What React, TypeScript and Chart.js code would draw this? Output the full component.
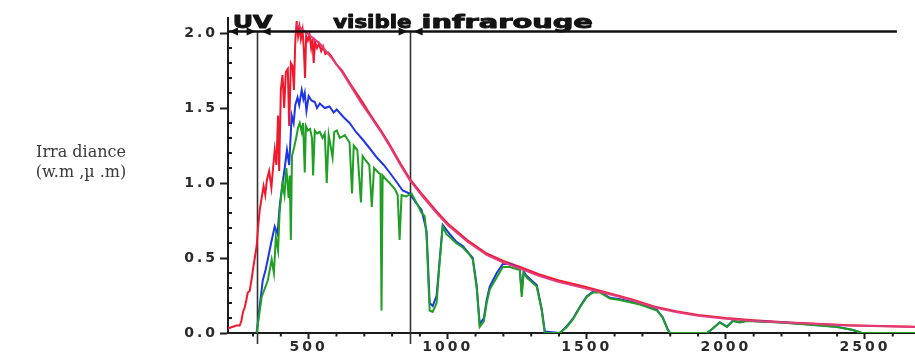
import { useEffect, useRef } from "react";
import { Chart, registerables } from "chart.js";

Chart.register(...registerables);

// Axis ticks
const wavelengthTicks = [500, 1000, 1500, 2000, 2500];
const irradianceTicks = [0, 0.5, 1.0, 1.5, 2.0];
const wavelengthMin = 210;
const wavelengthMax = 2680;
const irradianceMax = 2.1;

// Spectral band boundaries (nm) and their labels with the wavelength span each label covers
const uvLimit = 313;
const irLimit = 863;
const bandLabels = ["UV", "visible", "infrarouge"];
const bandLabelSpans: [number, number][] = [
  [227, 370],
  [588, 870],
  [906, 1522],
];
const arrowLineEnd = 2615;
const arrowLevel = 2.01;

const yTitleLines = ["Irra diance", "(w.m ,µ .m)"];

// Solar irradiance outside the atmosphere [wavelength nm, W/m²/µm]
const outsideAtmosphere: [number, number][] = [
  [209, 0.03], [225, 0.04], [240, 0.05], [252, 0.05], [258, 0.08], [264, 0.14], [270, 0.17],
  [276, 0.22], [281, 0.27], [288, 0.28], [295, 0.36], [302, 0.45], [308, 0.52], [313, 0.58],
  [318, 0.7], [324, 0.82], [331, 0.9], [338, 0.98], [344, 0.92], [350, 1.02], [358, 1.08],
  [366, 0.97], [372, 1.1], [378, 1.22], [384, 1.12], [390, 1.45], [394, 1.08], [400, 1.62],
  [406, 1.72], [412, 1.5], [418, 1.74], [425, 1.76], [430, 1.38], [436, 1.8], [442, 1.78],
  [447, 1.62], [452, 1.95], [457, 2.08], [462, 1.98], [467, 2.04], [472, 1.96], [478, 2.02],
  [483, 1.88], [487, 1.7], [491, 1.98], [497, 1.95], [503, 1.99], [509, 1.9], [514, 1.96],
  [518, 1.8], [523, 1.94], [530, 1.9], [537, 1.93], [545, 1.88], [552, 1.91], [560, 1.86],
  [570, 1.87], [580, 1.85], [590, 1.82], [600, 1.79], [620, 1.75], [650, 1.66], [690, 1.55],
  [720, 1.46], [760, 1.35], [790, 1.26], [830, 1.13], [863, 1.03], [910, 0.92], [960, 0.81],
  [1000, 0.73], [1070, 0.62], [1140, 0.53], [1200, 0.48], [1260, 0.44], [1330, 0.39],
  [1400, 0.35], [1490, 0.31], [1600, 0.255], [1660, 0.225], [1745, 0.175], [1820, 0.145],
  [1900, 0.12], [2000, 0.1], [2100, 0.085], [2230, 0.07], [2440, 0.052], [2560, 0.046],
  [2680, 0.041],
];

// Direct irradiance at ground level
const groundDirect: [number, number][] = [
  [313, 0.0], [322, 0.15], [335, 0.35], [345, 0.42], [353, 0.49], [365, 0.6], [378, 0.71],
  [388, 0.66], [396, 0.85], [405, 0.98], [414, 1.1], [422, 1.22], [430, 1.12], [439, 1.45],
  [446, 1.4], [452, 1.52], [460, 1.57], [466, 1.52], [475, 1.62], [481, 1.56], [486, 1.6],
  [492, 1.48], [500, 1.58], [510, 1.55], [522, 1.54], [530, 1.5], [540, 1.53], [558, 1.5],
  [575, 1.51], [590, 1.47], [601, 1.49], [625, 1.44], [647, 1.4], [670, 1.34], [694, 1.29],
  [720, 1.23], [745, 1.17], [770, 1.12], [791, 1.07], [815, 1.01], [838, 0.95], [863, 0.93],
  [885, 0.87], [906, 0.82], [924, 0.68], [935, 0.2], [946, 0.18], [960, 0.25], [982, 0.72],
  [1007, 0.66], [1030, 0.61], [1054, 0.58], [1090, 0.5], [1104, 0.32], [1115, 0.06],
  [1130, 0.1], [1140, 0.22], [1151, 0.31], [1176, 0.4], [1198, 0.46], [1223, 0.46],
  [1259, 0.43], [1266, 0.27], [1273, 0.41], [1284, 0.38], [1320, 0.32], [1338, 0.16],
  [1349, 0.01], [1403, 0.0], [1428, 0.045], [1450, 0.095], [1475, 0.175], [1500, 0.245],
  [1522, 0.275], [1547, 0.275], [1583, 0.235], [1619, 0.225], [1691, 0.195], [1752, 0.155],
  [1773, 0.105], [1791, 0.025], [1799, 0.0], [1932, 0.0], [1953, 0.03], [1978, 0.072],
  [2004, 0.042], [2025, 0.082], [2050, 0.072], [2075, 0.082], [2194, 0.072], [2302, 0.057],
  [2399, 0.042], [2457, 0.02], [2489, 0.0], [2680, 0.0],
];

// Irradiance at ground level through a humid atmosphere (absorption bands)
const groundHumid: [number, number][] = [
  [313, 0.0], [331, 0.24], [353, 0.35], [367, 0.49], [375, 0.4], [382, 0.64], [390, 0.55],
  [396, 0.82], [406, 1.0], [413, 0.92], [420, 1.1], [428, 0.9], [432, 1.05], [436, 0.62],
  [440, 1.18], [448, 1.24], [455, 1.3], [462, 1.37], [468, 1.4], [475, 1.34], [480, 1.4],
  [486, 1.07], [490, 1.38], [497, 1.35], [505, 1.36], [512, 1.3], [516, 1.05], [522, 1.35],
  [530, 1.33], [540, 1.34], [550, 1.3], [558, 1.33], [565, 1.0], [572, 1.32], [586, 1.17],
  [592, 1.34], [601, 1.35], [612, 1.3], [630, 1.32], [647, 1.27], [656, 0.93], [662, 1.25],
  [675, 1.22], [688, 0.87], [694, 1.18], [705, 1.15], [718, 1.12], [727, 0.84], [735, 1.1],
  [750, 1.07], [758, 1.06], [762, 0.15], [766, 1.05], [780, 1.02], [791, 1.0], [810, 0.96],
  [820, 0.92], [827, 0.62], [834, 0.92], [850, 0.91], [870, 0.93], [890, 0.86], [906, 0.8],
  [917, 0.78], [924, 0.64], [935, 0.15], [946, 0.14], [960, 0.2], [970, 0.45], [982, 0.71],
  [995, 0.66], [1007, 0.64], [1030, 0.6], [1054, 0.57], [1075, 0.53], [1090, 0.49],
  [1104, 0.3], [1115, 0.04], [1130, 0.08], [1140, 0.2], [1151, 0.29], [1176, 0.37],
  [1198, 0.44], [1223, 0.44], [1259, 0.42], [1266, 0.24], [1273, 0.4], [1284, 0.37],
  [1320, 0.31], [1338, 0.15], [1349, 0.0], [1403, 0.0], [1428, 0.04], [1450, 0.09],
  [1475, 0.17], [1500, 0.24], [1522, 0.27], [1547, 0.27], [1583, 0.23], [1619, 0.22],
  [1691, 0.19], [1752, 0.15], [1773, 0.1], [1791, 0.02], [1799, 0.0], [1932, 0.0],
  [1953, 0.03], [1978, 0.07], [2004, 0.04], [2025, 0.08], [2050, 0.07], [2075, 0.08],
  [2194, 0.07], [2302, 0.055], [2399, 0.04], [2457, 0.02], [2489, 0.0], [2680, 0.0],
];

// Black body curve
const blackBody: [number, number][] = [
  [455, 2.06], [480, 2.02], [500, 1.99], [540, 1.93], [580, 1.84], [620, 1.74], [650, 1.65],
  [690, 1.53], [720, 1.45], [760, 1.34], [790, 1.25], [830, 1.12], [863, 1.02], [910, 0.91],
  [960, 0.8], [1000, 0.72], [1070, 0.61], [1140, 0.52], [1200, 0.47], [1260, 0.43],
  [1330, 0.38], [1400, 0.34], [1490, 0.3], [1600, 0.25], [1660, 0.22], [1745, 0.17],
  [1820, 0.14], [1900, 0.115], [2000, 0.095], [2100, 0.08], [2230, 0.068], [2440, 0.05],
  [2560, 0.045], [2680, 0.04],
];

const toPoints = (pairs: [number, number][]) => pairs.map(([x, y]) => ({ x, y }));

const INK = "#1c1c1c";

function arrowHead(ctx: CanvasRenderingContext2D, tipX: number, y: number, dir: number) {
  const len = 9;
  const half = 4;
  ctx.beginPath();
  ctx.moveTo(tipX, y);
  ctx.lineTo(tipX - dir * len, y - half);
  ctx.lineTo(tipX - dir * len, y + half);
  ctx.closePath();
  ctx.fill();
}

const spectralBandsPlugin = {
  id: "spectralBands",
  beforeDraw(chart: any) {
    // wide spacing for the axis tick digits
    chart.ctx.letterSpacing = "3px";
  },
  beforeDatasetsDraw(chart: any) {
    const { ctx, scales } = chart;
    const { x, y } = scales;
    ctx.save();
    ctx.letterSpacing = "0px";
    ctx.strokeStyle = "#333";
    ctx.lineWidth = 1.6;
    const top = y.getPixelForValue(arrowLevel);
    const bottom = y.getPixelForValue(0) + 11;
    [uvLimit, irLimit].forEach((w) => {
      const px = Math.round(x.getPixelForValue(w)) + 0.5;
      ctx.beginPath();
      ctx.moveTo(px, top);
      ctx.lineTo(px, bottom);
      ctx.stroke();
    });
    ctx.restore();
  },
  afterDraw(chart: any) {
    const { ctx, scales } = chart;
    const { x, y } = scales;
    ctx.save();
    ctx.letterSpacing = "0px";

    // Minor ticks on both axes
    ctx.strokeStyle = INK;
    ctx.lineWidth = 2;
    const y0 = y.getPixelForValue(0);
    for (let w = 300; w <= wavelengthMax; w += 100) {
      if (w % 500 === 0) continue;
      const px = x.getPixelForValue(w);
      ctx.beginPath();
      ctx.moveTo(px, y0);
      ctx.lineTo(px, y0 + 3.5);
      ctx.stroke();
    }
    const xLeft = x.getPixelForValue(wavelengthMin);
    for (let k = 1; k <= 20; k++) {
      if (k % 5 === 0) continue;
      const py = y.getPixelForValue(k / 10);
      ctx.beginPath();
      ctx.moveTo(xLeft, py);
      ctx.lineTo(xLeft + 4, py);
      ctx.stroke();
    }

    // Band arrow line along the top
    const ay = y.getPixelForValue(arrowLevel);
    ctx.strokeStyle = "#111";
    ctx.fillStyle = "#111";
    ctx.lineWidth = 2.4;
    ctx.beginPath();
    ctx.moveTo(xLeft, ay);
    ctx.lineTo(x.getPixelForValue(arrowLineEnd), ay);
    ctx.stroke();
    const uvX = x.getPixelForValue(uvLimit);
    const irX = x.getPixelForValue(irLimit);
    arrowHead(ctx, xLeft + 1, ay, -1);
    arrowHead(ctx, uvX - 1, ay, 1);
    arrowHead(ctx, uvX + 5, ay, -1);
    arrowHead(ctx, irX - 2, ay, 1);
    arrowHead(ctx, irX + 4, ay, -1);

    // Band labels
    ctx.font = 'bold 17px "DejaVu Sans"';
    ctx.textBaseline = "alphabetic";
    ctx.textAlign = "left";
    ctx.fillStyle = "#141414";
    ctx.strokeStyle = "#141414";
    ctx.lineWidth = 0.9;
    ctx.lineJoin = "round";
    bandLabels.forEach((label, i) => {
      const [a, b] = bandLabelSpans[i];
      const x1 = x.getPixelForValue(a);
      const x2 = x.getPixelForValue(b);
      const w = ctx.measureText(label).width;
      ctx.save();
      ctx.translate(x1, ay - 3.5);
      ctx.scale((x2 - x1) / w, 1);
      ctx.fillText(label, 0, 0);
      ctx.strokeText(label, 0, 0);
      ctx.restore();
    });

    // Horizontal y-axis title
    ctx.font = '16px "DejaVu Serif"';
    ctx.fillStyle = "#3a3a3a";
    ctx.textAlign = "center";
    const cx = chart.chartArea.left - 147;
    const base = y.getPixelForValue(1.173);
    yTitleLines.forEach((line, i) => {
      ctx.fillText(line, cx, base + i * 20);
    });
    ctx.restore();
    ctx.letterSpacing = "0px";
  },
};

const tickFont = { family: '"DejaVu Sans"', weight: "bold" as const, size: 14 };

export default function App() {
  const canvasRef = useRef<HTMLCanvasElement>(null);

  useEffect(() => {
    const canvas = canvasRef.current;
    if (!canvas) return;
    const chart = new Chart(canvas, {
      type: "line",
      data: {
        datasets: [
          {
            data: toPoints(blackBody),
            borderColor: "#e23c7a",
            borderWidth: 2,
            pointRadius: 0,
            tension: 0,
            order: 0,
          },
          {
            data: toPoints(groundHumid),
            borderColor: "#1f9f24",
            borderWidth: 2,
            pointRadius: 0,
            tension: 0,
            order: 1,
          },
          {
            data: toPoints(groundDirect),
            borderColor: "#1f35e8",
            borderWidth: 2,
            pointRadius: 0,
            tension: 0,
            order: 2,
          },
          {
            data: toPoints(outsideAtmosphere),
            borderColor: "#f0182c",
            borderWidth: 2,
            pointRadius: 0,
            tension: 0,
            order: 3,
          },
        ],
      },
      options: {
        animation: false,
        responsive: false,
        devicePixelRatio: 1,
        layout: { padding: { top: 18, left: 0, right: 0, bottom: 0 } },
        plugins: { legend: { display: false }, tooltip: { enabled: false } },
        scales: {
          x: {
            type: "linear",
            min: wavelengthMin,
            max: wavelengthMax,
            afterBuildTicks: (s: any) => {
              s.ticks = wavelengthTicks.map((v) => ({ value: v }));
            },
            afterFit: (s: any) => {
              s.height = 27;
            },
            ticks: {
              autoSkip: false,
              maxRotation: 0,
              padding: 0,
              color: "#2a2a2a",
              font: tickFont,
              callback: (v: any) => String(v),
            },
            grid: {
              drawOnChartArea: false,
              drawTicks: true,
              tickLength: 6,
              tickWidth: 2,
              tickColor: INK,
            },
            border: { display: true, color: INK, width: 2 },
          },
          y: {
            type: "linear",
            min: 0,
            max: irradianceMax,
            afterBuildTicks: (s: any) => {
              s.ticks = irradianceTicks.map((v) => ({ value: v }));
            },
            afterFit: (s: any) => {
              s.width = 228;
            },
            ticks: {
              padding: 2,
              color: "#2a2a2a",
              font: tickFont,
              callback: (v: any) => Number(v).toFixed(1),
            },
            grid: {
              drawOnChartArea: false,
              drawTicks: true,
              tickLength: 8,
              tickWidth: 2,
              tickColor: INK,
            },
            border: { display: true, color: INK, width: 2 },
          },
        },
      },
      plugins: [spectralBandsPlugin],
    });
    return () => chart.destroy();
  }, []);

  return (
    <div
      style={{
        position: "fixed",
        left: 0,
        top: 0,
        width: 915,
        height: 360,
        background: "#ffffff",
      }}
    >
      <canvas ref={canvasRef} width={915} height={360} style={{ display: "block" }} />
    </div>
  );
}
